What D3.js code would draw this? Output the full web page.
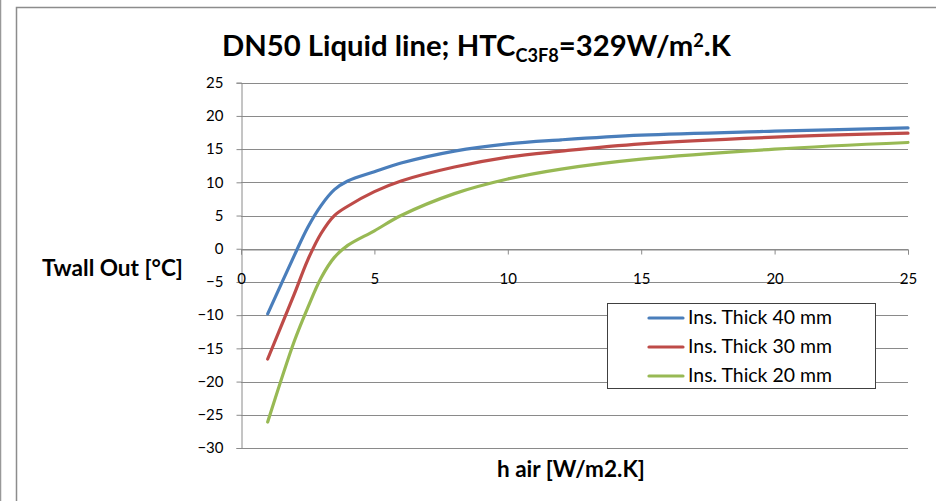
<!DOCTYPE html>
<html><head><meta charset="utf-8">
<script src="https://cdn.jsdelivr.net/npm/d3@7"></script>
<style>
html,body{margin:0;padding:0;background:#fff;}
svg{display:block;font-family:Lato,"Open Sans",sans-serif;}
</style></head>
<body>
<script>
const hAir = [1, 2, 2.5, 3, 3.5, 4, 5, 6, 8, 10, 12, 15, 20, 25];
const thick40 = [-9.8, -1.0, 3.2, 6.5, 8.9, 10.2, 11.6, 12.9, 14.7, 15.8, 16.4, 17.1, 17.7, 18.2];
const thick30 = [-16.6, -6.8, -1.7, 2.3, 5.0, 6.4, 8.6, 10.2, 12.3, 13.8, 14.7, 15.8, 16.8, 17.4];
const thick20 = [-26.1, -13.9, -8.9, -4.4, -1.3, 0.5, 2.7, 5.0, 8.3, 10.5, 12.0, 13.5, 15.0, 16.0];
const seriesNames = ["Ins. Thick 40 mm", "Ins. Thick 30 mm", "Ins. Thick 20 mm"];
const seriesColors = ["#4A7EBB", "#BE4B48", "#98B954"];
const xTicks = [0, 5, 10, 15, 20, 25];
const yTicks = [25, 20, 15, 10, 5, 0, -5, -10, -15, -20, -25, -30];

const W = 936, H = 501;
const svg = d3.select("body").append("svg").attr("width", W).attr("height", H);

// outer frames
svg.append("line").attr("x1", 0.5).attr("x2", 0.5).attr("y1", 0).attr("y2", H)
  .attr("stroke", "#999").attr("stroke-width", 1.5);
svg.append("path").attr("d", `M16.5,${H} V7.5 H${W}`).attr("fill", "none")
  .attr("stroke", "#8c8c8c").attr("stroke-width", 1.5);

const x = d3.scaleLinear().domain([0, 25]).range([241, 908]);
const y = d3.scaleLinear().domain([-30, 25]).range([448, 82.7]);

// gridlines
svg.append("g").selectAll("line").data(yTicks).join("line")
  .attr("x1", x(0)).attr("x2", x(25))
  .attr("y1", d => Math.round(y(d)) + 0.5).attr("y2", d => Math.round(y(d)) + 0.5)
  .attr("stroke", "#8a8a8a").attr("stroke-width", 1);

// y axis
const yAxis = svg.append("g").attr("transform", `translate(${Math.round(x(0)) + 0.5},0)`)
  .call(d3.axisLeft(y).tickValues(yTicks).tickSize(5).tickPadding(13).tickFormat(d3.format("d")));
yAxis.select(".domain").attr("stroke", "#8a8a8a");
yAxis.selectAll(".tick line").attr("stroke", "#8a8a8a");
yAxis.selectAll(".tick text").attr("font-size", 15).attr("font-family", "Lato, sans-serif").attr("fill", "#000");

// x axis at y=0
const xAxis = svg.append("g").attr("transform", `translate(0,${Math.round(y(0)) + 0.5})`)
  .call(d3.axisBottom(x).tickValues(xTicks).tickSize(5).tickPadding(19).tickFormat(d3.format("d")));
xAxis.select(".domain").attr("stroke", "#8a8a8a");
xAxis.selectAll(".tick line").attr("stroke", "#8a8a8a");
xAxis.selectAll(".tick text").attr("font-size", 15).attr("font-family", "Lato, sans-serif").attr("fill", "#000");

// lines
const allSeries = [thick40, thick30, thick20];
const line = d3.line().x((d, i) => x(hAir[i])).y(d => y(d)).curve(d3.curveCatmullRom.alpha(0.5));
svg.append("g").selectAll("path").data(allSeries).join("path")
  .attr("d", d => line(d)).attr("fill", "none")
  .attr("stroke", (d, i) => seriesColors[i]).attr("stroke-width", 3.2)
  .attr("stroke-linecap", "round").attr("stroke-linejoin", "round");

function fit(sel, target) {
  const w = sel.node().getBBox().width;
  const fs = parseFloat(sel.attr("font-size"));
  if (w > 0) sel.attr("font-size", fs * target / w);
}

// title
const title = svg.append("text").attr("x", 222).attr("y", 56).attr("font-size", 25)
  .attr("font-weight", "bold").attr("fill", "#000");
title.append("tspan").text("DN50 Liquid line; HTC");
title.append("tspan").attr("font-size", "0.62em").attr("dy", 6).text("C3F8");
title.append("tspan").attr("dy", -6).text("=329W/m");
title.append("tspan").attr("font-size", "0.62em").attr("dy", -9).text("2");
title.append("tspan").attr("dy", 9).text(".K");
fit(title, 510);

// axis titles
const yl = svg.append("text").attr("x", 42).attr("y", 276).attr("font-size", 17)
  .attr("font-weight", "bold").attr("fill", "#000").text("Twall Out [°C]");
fit(yl, 141);
const xl = svg.append("text").attr("x", 497).attr("y", 477).attr("font-size", 17)
  .attr("font-weight", "bold").attr("fill", "#000").text("h air [W/m2.K]");
fit(xl, 148);

// legend
const lg = svg.append("g");
lg.append("rect").attr("x", 607.5).attr("y", 303.5).attr("width", 268).attr("height", 85)
  .attr("fill", "#fff").attr("stroke", "#404040").attr("stroke-width", 1);
const rows = lg.selectAll("g.row").data(seriesNames).join("g").attr("class", "row")
  .attr("transform", (d, i) => `translate(0,${318 + i * 29})`);
rows.append("line").attr("x1", 649).attr("x2", 683).attr("y1", 0).attr("y2", 0)
  .attr("stroke", (d, i) => seriesColors[i]).attr("stroke-width", 3.2).attr("stroke-linecap", "round");
rows.append("text").attr("x", 688).attr("y", 6).attr("font-size", 17).attr("fill", "#000").text(d => d);
rows.selectAll("text").each(function () { fit(d3.select(this), 144); });
</script>
</body></html>
